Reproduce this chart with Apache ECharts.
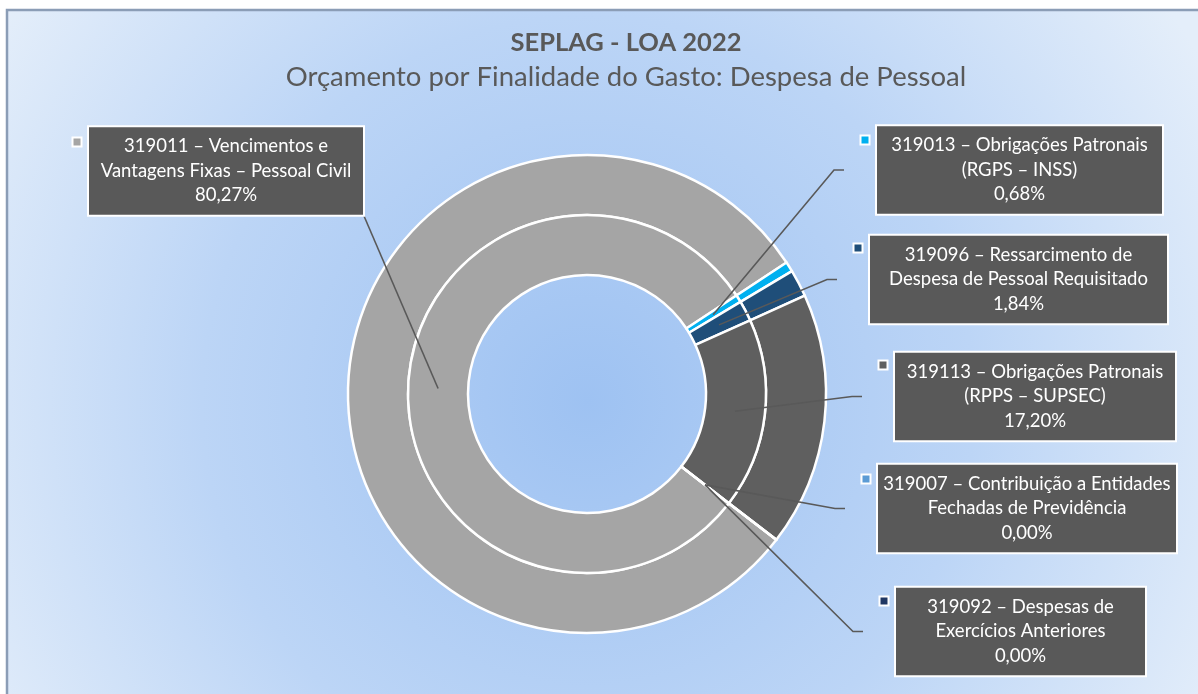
<!DOCTYPE html>
<html>
<head>
<meta charset="utf-8">
<script src="https://cdn.jsdelivr.net/npm/echarts@6/dist/echarts.min.js"></script>
<style>
  html, body { margin: 0; background: #fff; }
  #main { width: 1198px; height: 694px; }
</style>
</head>
<body>
<div id="main"></div>
<script>
  // dados
  var codes = ['319011', '319013', '319096', '319113', '319007', '319092'];
  var names = [
    'Vencimentos e\nVantagens Fixas – Pessoal Civil',
    'Obrigações Patronais\n(RGPS – INSS)',
    'Ressarcimento de\nDespesa de Pessoal Requisitado',
    'Obrigações Patronais\n(RPPS – SUPSEC)',
    'Contribuição a Entidades\nFechadas de Previdência',
    'Despesas de\nExercícios Anteriores'
  ];
  var values = [80.27, 0.68, 1.84, 17.20, 0.00, 0.00];
  var colors = ['#a5a5a5', '#00b0f0', '#1f4e79', '#5f5f5f', '#5b9bd5', '#203864'];

  // caixas dos rótulos: [esquerda, topo, largura, altura]
  var boxes = [
    [87, 127, 278, 88],
    [875, 125, 289, 90],
    [868, 233, 301, 93],
    [893, 350, 284, 93],
    [876, 464, 302, 89],
    [894, 586, 253, 91]
  ];

  var font = 'Lato';
  var center = [587, 394];

  var myChart = echarts.init(document.getElementById('main'));

  var seriesData = codes.map(function (c, i) {
    return {
      name: c,
      value: values[i],
      itemStyle: { color: colors[i] }
    };
  });

  function pct(v) {
    return v.toFixed(2).replace('.', ',') + '%';
  }

  var ring = {
    type: 'pie',
    center: center,
    clockwise: true,
    startAngle: -37.6,
    avoidLabelOverlap: false,
    silent: true,
    itemStyle: { borderColor: '#fff', borderWidth: 2.5 },
    label: { show: false },
    labelLine: { show: false },
    emphasis: { disabled: true }
  };

  var option = {
    animation: false,
    graphic: [{
      type: 'rect',
      z: -10,
      shape: { x: 7, y: 10, width: 1210, height: 700 },
      style: {
        fill: {
          type: 'radial', x: 0.48, y: 0.56, r: 1,
          colorStops: [
            { offset: 0, color: '#9ec2f2' },
            { offset: 0.55, color: '#bcd5f6' },
            { offset: 1, color: '#e4eefa' }
          ]
        },
        stroke: '#8b9db6',
        lineWidth: 2.5
      }
    }],
    title: {
      text: 'SEPLAG - LOA 2022',
      subtext: 'Orçamento por Finalidade do Gasto: Despesa de Pessoal',
      left: 621,
      top: 25,
      textAlign: 'center',
      itemGap: 7,
      textStyle: { fontFamily: font, fontSize: 25.5, fontWeight: 'bold', color: '#595959' },
      subtextStyle: { fontFamily: font, fontSize: 27.5, color: '#595959' }
    },
    series: [
      // anel externo + chaves de legenda
      Object.assign({}, ring, {
        radius: [179, 239],
        data: seriesData,
        label: {
          show: true,
          position: 'outside',
          formatter: ' ',
          fontSize: 1,
          width: 7,
          height: 7,
          lineHeight: 7,
          padding: 0,
          backgroundColor: 'inherit',
          borderColor: '#fff',
          borderWidth: 2
        },
        labelLayout: function (p) {
          var b = boxes[p.dataIndex];
          return { x: b[0] - 10, y: b[1] + 15, align: 'center', verticalAlign: 'middle' };
        }
      }),
      // anel interno
      Object.assign({}, ring, {
        radius: [119, 179],
        data: seriesData
      }),
      // âncoras das linhas de chamada e caixas dos rótulos
      Object.assign({}, ring, {
        radius: [119, 149],
        z: 5,
        data: codes.map(function (c, i) {
          return { name: c, value: values[i], itemStyle: { color: 'rgba(0,0,0,0)', borderWidth: 0 } };
        }),
        label: {
          show: true,
          position: 'outside',
          formatter: function (p) {
            return codes[p.dataIndex] + ' – ' + names[p.dataIndex] + '\n' + pct(values[p.dataIndex]);
          },
          fontFamily: font,
          fontSize: 18.5,
          lineHeight: 24.5,
          color: '#fff',
          align: 'center',
          backgroundColor: '#595959',
          borderColor: '#fff',
          borderWidth: 2,
          padding: [7, 0, 7, 0]
        },
        labelLine: {
          show: true,
          lineStyle: { color: '#595959', width: 1.6 }
        },
        labelLayout: function (p) {
          var i = p.dataIndex;
          var b = boxes[i];
          var p0 = p.labelLinePoints[0];
          var cy = b[1] + b[3] / 2;
          var pts;
          if (i === 0) {
            var end = [b[0] + b[2] - 1, b[1] + b[3] + 1];
            pts = [p0, end, end];
          } else {
            var ex = b[0] - 31;
            pts = [p0, [ex - 10, cy], [ex, cy]];
          }
          return {
            x: b[0] + b[2] / 2,
            y: cy,
            align: 'center',
            verticalAlign: 'middle',
            width: b[2] - 4,
            labelLinePoints: pts
          };
        }
      })
    ]
  };

  myChart.setOption(option);
</script>
</body>
</html>
